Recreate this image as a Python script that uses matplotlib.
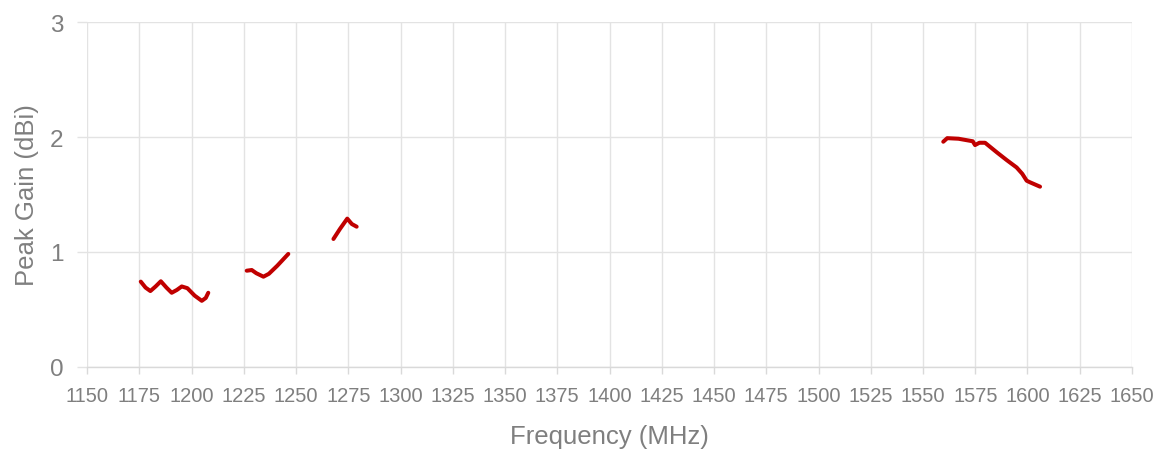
import matplotlib.pyplot as plt

# peak gain per band
freq_l5 = [1175.7, 1178.0, 1180.3, 1182.8, 1185.3, 1188.0, 1190.5, 1193.0, 1195.3, 1198.0, 1201.5, 1204.9, 1206.8, 1208.0]
gain_l5 = [0.742, 0.690, 0.660, 0.700, 0.745, 0.690, 0.645, 0.670, 0.700, 0.685, 0.620, 0.575, 0.600, 0.645]

freq_l2 = [1226.4, 1228.8, 1231.0, 1234.4, 1237.0, 1241.0, 1246.3]
gain_l2 = [0.837, 0.843, 0.815, 0.785, 0.810, 0.880, 0.983]

freq_l1x = [1267.9, 1271.0, 1274.5, 1276.7, 1279.0]
gain_l1x = [1.113, 1.200, 1.290, 1.243, 1.220]

freq_l1 = [1559.7, 1561.6, 1567.0, 1573.8, 1574.9, 1577.0, 1579.7, 1585.3, 1590.0, 1594.8, 1597.5, 1599.6, 1601.2, 1606.0]
gain_l1 = [1.959, 1.990, 1.985, 1.963, 1.930, 1.950, 1.950, 1.867, 1.800, 1.735, 1.680, 1.620, 1.606, 1.568]

x_ticks = list(range(1150, 1651, 25))
y_ticks = [0, 1, 2, 3]

line_color = '#C00000'
text_color = '#7f7f7f'
grid_color = '#e3e3e3'

plt.rcParams['font.family'] = ['Liberation Sans', 'DejaVu Sans']

fig = plt.figure(figsize=(11.67, 4.52), dpi=100)
ax = fig.add_axes([0.0746, 0.186, 0.8954, 0.763])

for xs, ys in [(freq_l5, gain_l5), (freq_l2, gain_l2), (freq_l1x, gain_l1x), (freq_l1, gain_l1)]:
    ax.plot(xs, ys, color=line_color, linewidth=2.9, solid_capstyle='round', solid_joinstyle='round')

ax.set_xlim(1150, 1650)
ax.set_ylim(0, 3)
ax.set_xticks(x_ticks)
ax.set_yticks(y_ticks)
ax.grid(True, color=grid_color, linewidth=1.0)
ax.set_axisbelow(True)
for side in ['top', 'right', 'left']:
    ax.spines[side].set_visible(False)
ax.spines['bottom'].set_color('#d9d9d9')
ax.spines['bottom'].set_linewidth(1.0)

ax.tick_params(axis='x', length=5, width=1.0, color='#d9d9d9', labelsize=14.5, labelcolor=text_color, pad=8.5)
ax.tick_params(axis='y', length=7, width=1.0, color=grid_color, labelsize=17.5, labelcolor=text_color, pad=10)

ax.set_xlabel('Frequency (MHz)', fontsize=18.5, color=text_color, labelpad=14)
ax.set_ylabel('Peak Gain (dBi)', fontsize=18.5, color=text_color, labelpad=8)

fig.savefig('out.png', dpi=100)
